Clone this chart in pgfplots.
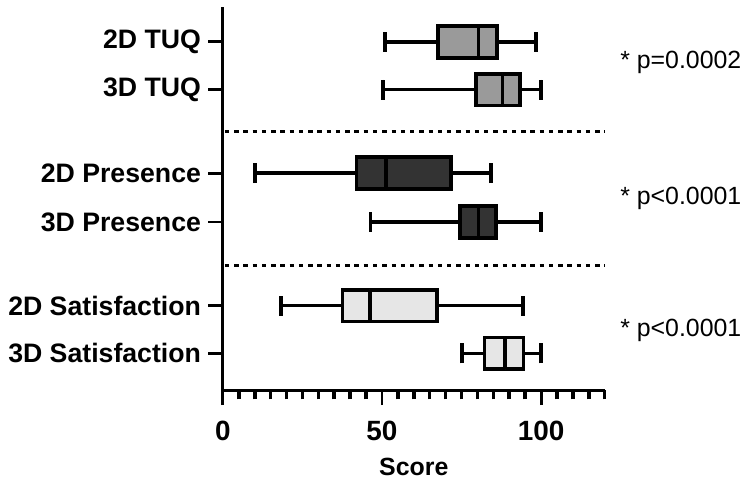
\documentclass[border=0pt]{standalone}
\usepackage{fontspec}
\setmainfont{Liberation Sans}
\usepackage{pgfplots}
\pgfplotsset{compat=1.18}
\usepgfplotslibrary{statistics}

\definecolor{tuq}{HTML}{9A9A9A}
\definecolor{pres}{HTML}{333333}
\definecolor{sat}{HTML}{E6E6E6}

% y values are image rows (negated), 1 px = 0.5pt
\pgfplotsset{
  bx/.style={draw=black, line width=1.8pt, mark=none, solid,
    boxplot/draw direction=x,
    boxplot/every box/.style={line width=1.9pt},
    boxplot/every whisker/.style={line width=1.8pt},
    boxplot/every median/.style={line width=1.8pt}},
  sep/.style={black, line width=1.5pt, dash pattern=on 2.2pt off 2.45pt},
}

\begin{document}
\begin{tikzpicture}
\begin{axis}[
  scale only axis,
  width=191.7pt, height=192.5pt,
  xmin=0, xmax=120, ymin=-392, ymax=-7,
  axis lines=left,
  axis line style={-, line width=1.5pt},
  clip=false,
  tick align=outside,
  major tick length=7.5pt,
  tick style={black, line width=1.5pt},
  xtick={0,50,100},
  extra x ticks={5,10,15,20,25,30,35,40,45,55,60,65,70,75,80,85,90,95,105,110,115,120},
  extra x tick labels={},
  extra x tick style={major tick length=4.6pt,
    every tick/.style={black, line width=1.8pt}},
  ytick={-42,-90,-174,-223,-307,-355},
  yticklabels={2D TUQ,3D TUQ,2D Presence,3D Presence,2D Satisfaction,3D Satisfaction},
  /pgf/number format/assume math mode=true,
  yticklabel style={font=\bfseries\fontsize{13.4}{15}\selectfont, anchor=east},
  xticklabel style={font=\bfseries\fontsize{14}{16}\selectfont, yshift=-4.5pt},
  xlabel={Score},
  xlabel style={font=\bfseries\fontsize{12.5}{15}\selectfont,
    at={(axis description cs:0.5,0)}, anchor=base, yshift=-43pt},
]
% TUQ
\addplot[bx, fill=tuq, boxplot prepared={draw position=-42,
  lower whisker=50.9, lower quartile=67.6, median=80.4,
  upper quartile=86.2, upper whisker=98.4, box extend=32, whisker extend=20}]
  coordinates {};
\addplot[bx, fill=tuq, boxplot prepared={draw position=-90,
  lower whisker=50.4, lower quartile=79.6, median=87.9,
  upper quartile=93.5, upper whisker=100, box extend=32, whisker extend=20}]
  coordinates {};
% Presence
\addplot[bx, fill=pres, boxplot prepared={draw position=-174,
  lower whisker=10.0, lower quartile=42.0, median=51.2,
  upper quartile=71.8, upper whisker=84.3, box extend=32, whisker extend=20}]
  coordinates {};
\addplot[bx, fill=pres, boxplot prepared={draw position=-223,
  lower whisker=46.4, lower quartile=74.6, median=80.4,
  upper quartile=85.9, upper whisker=100, box extend=32, whisker extend=20}]
  coordinates {};
% Satisfaction
\addplot[bx, fill=sat, boxplot prepared={draw position=-307,
  lower whisker=18.3, lower quartile=37.6, median=46.2,
  upper quartile=67.4, upper whisker=94.4, box extend=32, whisker extend=20}]
  coordinates {};
\addplot[bx, fill=sat, boxplot prepared={draw position=-355,
  lower whisker=75.2, lower quartile=82.2, median=88.7,
  upper quartile=94.5, upper whisker=100, box extend=32, whisker extend=20}]
  coordinates {};

% group separators
\addplot[sep] coordinates {(0.6,-132.5) (120,-132.5)};
\addplot[sep] coordinates {(0.6,-266.5) (120,-266.5)};

% p-values
\node[anchor=west, font=\fontsize{12.5}{15}\selectfont] at (axis cs:122.7,-63) {* p=0.0002};
\node[anchor=west, font=\fontsize{12.5}{15}\selectfont] at (axis cs:122.7,-199) {* p<0.0001};
\node[anchor=west, font=\fontsize{12.5}{15}\selectfont] at (axis cs:122.7,-332) {* p<0.0001};

% page size of the reference
\path (axis cs:-70.1,0) rectangle (axis cs:164.0,-486);
\end{axis}
\end{tikzpicture}
\end{document}
